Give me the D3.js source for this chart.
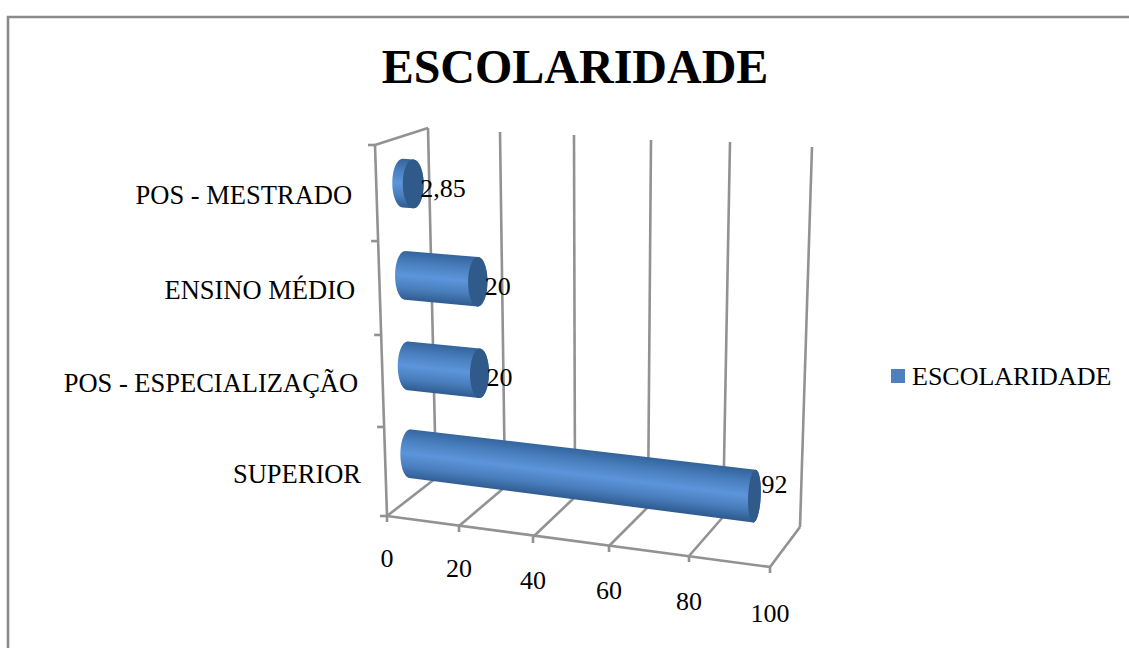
<!DOCTYPE html>
<html><head><meta charset="utf-8">
<script src="https://cdn.jsdelivr.net/npm/d3@7"></script>
<style>html,body{margin:0;padding:0;background:#fff}svg{display:block}text{font-family:"Liberation Serif",serif;fill:#000}</style>
</head><body><svg id="c" width="1129" height="648"></svg>
<script>
const chartTitle = "ESCOLARIDADE";
const seriesName = "ESCOLARIDADE";
const categories = ["SUPERIOR", "POS - ESPECIALIZAÇÃO", "ENSINO MÉDIO", "POS - MESTRADO"];
const values = [92, 20, 20, 2.85];
const valueLabels = ["92", "20", "20", "2,85"];
const axisTicks = [0, 20, 40, 60, 80, 100];

const W = 1129, H = 648;
const svg = d3.select("#c");

// perspective calibration: the three visible edges of the chart box, per axis tick
const frontX = d3.scaleLinear().domain(axisTicks).range([387, 459, 533, 609, 689, 770]);
const frontY = d3.scaleLinear().domain(axisTicks).range([516, 526, 537, 546, 556, 567]);
const backBX = d3.scaleLinear().domain(axisTicks).range([436, 505, 575, 648, 723, 800]);
const backBY = d3.scaleLinear().domain(axisTicks).range([478, 487, 497, 507, 517, 527]);
const backTX = d3.scaleLinear().domain(axisTicks).range([428, 500, 574, 651, 730, 812]);
const backTY = d3.scaleLinear().domain(axisTicks).range([128, 132, 135, 140, 142, 147]);
const heightScale = d3.scaleLinear().domain([0, 1, 2, 3, 4]).range([0, 0.24, 0.488, 0.741, 1]);

// v: axis value, h: height 0..1, d: depth 0 (back) .. 1 (front)
function P(v, h, d) {
  const bx = backBX(v), by = backBY(v);
  const x = bx + (backTX(v) - bx) * h, y = by + (backTY(v) - by) * h;
  const offBx = frontX(v) - bx, offBy = frontY(v) - by;
  const tScale = 53 / 49, tYScale = 17 / 38;
  const ox = offBx * (1 + (tScale - 1) * h), oy = offBy * (1 + (tYScale - 1) * h);
  return [x + ox * d, y + oy * d];
}

const grid = "#929292";
const gl = svg.append("g").attr("fill", "none").attr("stroke", grid).attr("stroke-width", 2.6);
const seg = (a, b) => gl.append("line").attr("x1", a[0]).attr("y1", a[1]).attr("x2", b[0]).attr("y2", b[1]);

// chart frame
svg.append("path").attr("d", `M8,${H}V17H${W}`).attr("fill", "none").attr("stroke", "#8a8a8a").attr("stroke-width", 2.6);

// back wall and floor gridlines
axisTicks.forEach(t => {
  seg(P(t, 0, 0), P(t, 1, 0));
  seg(P(t, 0, 0), P(t, 0, 1));
  const f = P(t, 0, 1);
  seg(f, [f[0], f[1] + 6]);
});
seg(P(0, 0, 1), P(100, 0, 1));
seg(P(0, 0, 1), P(0, 1, 1));
seg(P(0, 1, 1), P(0, 1, 0));
d3.range(categories.length + 1).forEach(i => {
  const p = P(0, heightScale(i), 1);
  seg([p[0] - 7, p[1]], p);
});

const defs = svg.append("defs");

const radius = 0.0675, capDepth = 0.2, midDepth = 0.5, capFlatten = 0.3;
function ellipse(v, h) {
  const c = P(v, h, midDepth), t = P(v, h + radius, midDepth), f = P(v, h, midDepth + capDepth);
  return d3.range(0, 72).map(k => {
    const a = k / 72 * 2 * Math.PI;
    return [c[0] + (t[0] - c[0]) * Math.sin(a) + (f[0] - c[0]) * Math.cos(a),
            c[1] + (t[1] - c[1]) * Math.sin(a) + (f[1] - c[1]) * capFlatten * Math.cos(a)];
  });
}
const closed = d3.line().curve(d3.curveLinearClosed);

values.forEach((v, i) => {
  const h = heightScale(i + 0.5);
  const hull = d3.polygonHull(ellipse(0, h).concat(ellipse(v, h)));
  // gradient runs straight across the cylinder, normal to its axis
  const s = P(0, h, midDepth), e = P(v, h, midDepth);
  const len = Math.hypot(e[0] - s[0], e[1] - s[1]);
  const nx = -(e[1] - s[1]) / len, ny = (e[0] - s[0]) / len;
  const m = [(s[0] + e[0]) / 2, (s[1] + e[1]) / 2];
  const top = P(v / 2, h + radius, midDepth), R = Math.abs(top[1] - m[1]);
  const id = "bar" + i;
  const lg = defs.append("linearGradient").attr("id", id).attr("gradientUnits", "userSpaceOnUse")
    .attr("x1", m[0] - nx * R).attr("y1", m[1] - ny * R).attr("x2", m[0] + nx * R).attr("y2", m[1] + ny * R);
  [[0, "#34649c"], [0.25, "#4a80c0"], [0.5, "#5c95da"], [0.75, "#4a7fbe"], [1, "#2f5c90"]]
    .forEach(st => lg.append("stop").attr("offset", st[0]).attr("stop-color", st[1]));
  svg.append("path").attr("d", closed(hull)).attr("fill", `url(#${id})`);
  svg.append("path").attr("d", closed(ellipse(v, h))).attr("fill", "#305a8a");
});

// category labels
categories.forEach((c, i) => {
  const p = P(0, heightScale(i + 0.5), 1);
  svg.append("text").attr("x", p[0] - 24.5).attr("y", p[1] + 2.5).attr("dy", "0.33em")
    .attr("text-anchor", "end").attr("font-size", 26.5).text(c);
});

// value labels
const labelNudge = [-12, 4.5, 5, 5];
values.forEach((v, i) => {
  const p = P(v, heightScale(i + 0.5), midDepth);
  svg.append("text").attr("x", p[0] + 7).attr("y", p[1] + labelNudge[i]).attr("dy", "0.33em")
    .attr("font-size", 26).text(valueLabels[i]);
});

// axis tick labels
axisTicks.forEach(t => {
  const f = P(t, 0, 1);
  svg.append("text").attr("x", f[0]).attr("y", f[1] + 42 + t * 0.04).attr("dy", "0.33em")
    .attr("text-anchor", "middle").attr("font-size", 26).text(t);
});

// title
svg.append("text").attr("x", 575).attr("y", 67).attr("dy", "0.33em").attr("text-anchor", "middle")
  .attr("font-size", 48).attr("font-weight", "bold").text(chartTitle);

// legend
svg.append("rect").attr("x", 891).attr("y", 369).attr("width", 14).attr("height", 14).attr("fill", "#4f81bd");
svg.append("text").attr("x", 912).attr("y", 376).attr("dy", "0.33em").attr("font-size", 26).text(seriesName);
</script></body></html>
